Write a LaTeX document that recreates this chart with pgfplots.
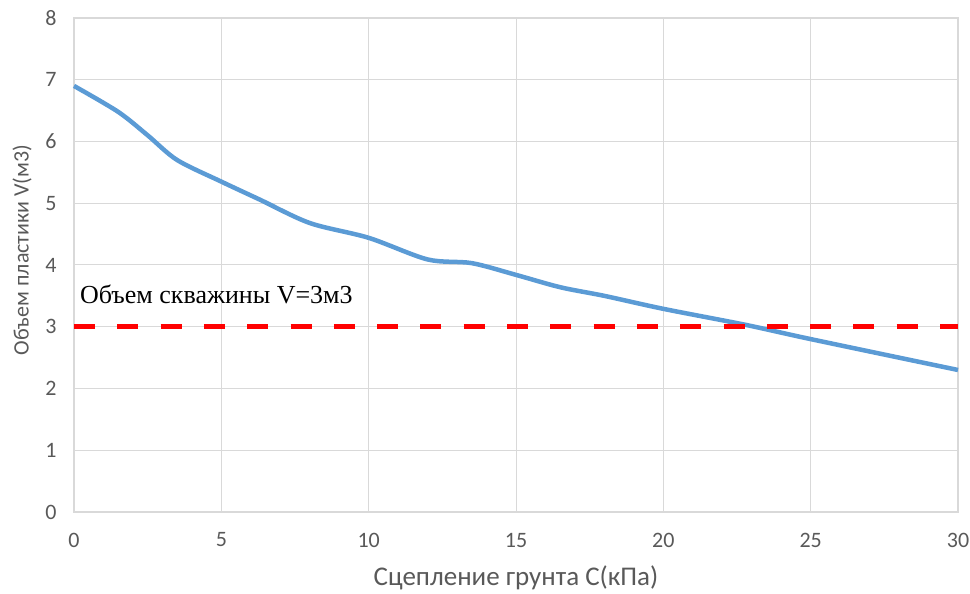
\documentclass[border=0pt]{standalone}
\usepackage{fontspec}
\setmainfont{Liberation Serif}
\newfontfamily\xfont{Carlito}
\usepackage{pgfplots}
\pgfplotsset{compat=1.18}
\definecolor{gridgray}{HTML}{D9D9D9}
\definecolor{txtgray}{HTML}{595959}
\definecolor{lineblue}{HTML}{5B9BD5}
\begin{document}
\begin{tikzpicture}
\useasboundingbox (-74bp,-82bp) rectangle (896bp,512bp);
\begin{axis}[
  at={(0,0)}, anchor=south west,
  scale only axis, width=884bp, height=494bp,
  xmin=0, xmax=30, ymin=0, ymax=8,
  xtick={0,5,...,30}, ytick={0,1,...,8},
  grid=major, major grid style={gridgray, line width=1bp},
  axis line style={gridgray, line width=1.2bp},
  tick style={draw=none},
  /pgf/number format/assume math mode=true,
  xticklabel style={font=\xfont\fontsize{22bp}{26bp}\selectfont, text=txtgray, anchor=center, yshift=-28bp},
  yticklabel style={font=\xfont\fontsize{22bp}{26bp}\selectfont, text=txtgray, anchor=east, xshift=-14bp},
  xlabel={Сцепление грунта С(кПа)},
  ylabel={Объем пластики V(м3)},
  xlabel style={font=\xfont\fontsize{27bp}{31bp}\selectfont, text=txtgray, at={(axis description cs:0.5,0)}, anchor=center, yshift=-66bp},
  ylabel style={font=\xfont\fontsize{22bp}{26bp}\selectfont, text=txtgray, at={(axis description cs:0,0.5)}, anchor=center, yshift=52bp, xshift=15bp},
  clip=false,
]
\addplot[lineblue, line width=4.5bp, smooth, tension=0.5] coordinates {
(0,6.90) (1.5,6.48) (2.5,6.10) (3.5,5.70) (5,5.35) (6.3,5.06) (8,4.68)
(10,4.44) (12,4.09) (13.5,4.03) (15,3.84) (16.5,3.64) (18,3.50) (20,3.29)
(22.8,3.03) (25,2.80) (30,2.30)
};
\addplot[red, line width=5bp, dash pattern=on 21bp off 22.3bp] coordinates {(0,3) (30,3)};
\node[anchor=base west, font=\fontsize{26bp}{30bp}\selectfont, text=black, inner sep=0pt] at (axis cs:0.2,3.37) {Объем скважины V=3м3};
\end{axis}
\end{tikzpicture}
\end{document}
